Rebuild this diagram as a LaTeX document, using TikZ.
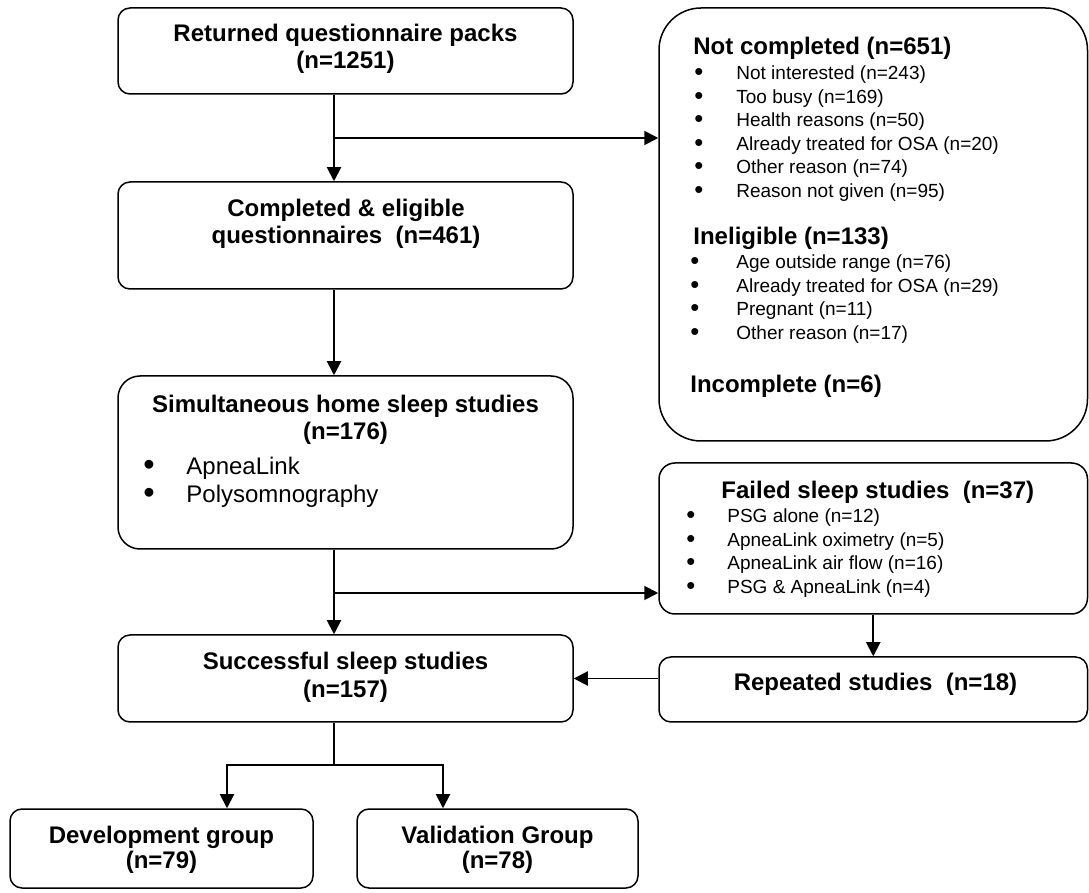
\documentclass[tikz,border=0pt]{standalone}
\usepackage{fontspec}
\setmainfont{Liberation Sans}
\usetikzlibrary{arrows.meta,positioning,fit}

\newcommand{\blt}{\raisebox{-0.3pt}{\scalebox{1.35}{\textbullet}}}

\begin{document}
\begin{tikzpicture}[
  x=0.5pt, y=-0.5pt,
  box/.style={draw,line width=0.75pt,rounded corners=6pt,inner sep=0pt},
  arrow/.style={-{Triangle[length=7pt,width=7pt]},line width=0.95pt},
  link/.style={line width=0.65pt},
  ttl/.style={font=\fontsize{12}{13.5}\selectfont\bfseries,inner sep=0pt,anchor=base},
  head/.style={font=\fontsize{12}{13.5}\selectfont\bfseries,inner sep=0pt,anchor=base west},
  lst/.style={font=\fontsize{9.5}{11.75}\selectfont,inner sep=0pt,anchor=base west},
  biglst/.style={font=\fontsize{12}{14}\selectfont,inner sep=0pt,anchor=base west}
]
  \useasboundingbox (0,0) rectangle (1089,893);

  % boxes
  \node[box,fit={(118,8) (573,94)}] (ret) {};
  \node[box,fit={(118,182) (573,289)}] (comp) {};
  \node[box,rounded corners=11pt,fit={(118,376) (573,549)}] (sim) {};
  \node[box,fit={(118,635) (573,722)}] (succ) {};
  \node[box,fit={(10,809) (313,888)}] (dev) {};
  \node[box,fit={(357,809) (638,888)}] (val) {};
  \node[box,rounded corners=21pt,fit={(659,8) (1087.5,441)}] (notc) {};
  \node[box,rounded corners=8pt,fit={(659,463) (1087.5,614)}] (fail) {};
  \node[box,fit={(659,657) (1087.5,722)}] (rep) {};

  % texts
  \node[ttl] (rett) at (345.5,42) {\begin{tabular}[t]{@{}c@{}}Returned questionnaire packs\\(n=1251)\end{tabular}};
  \node[ttl] (compt) at (346,217) {\begin{tabular}[t]{@{}c@{}}Completed \& eligible\\questionnaires\ \ (n=461)\end{tabular}};
  \node[ttl] (simt) at (345.5,413) {\begin{tabular}[t]{@{}c@{}}Simultaneous home sleep studies\\(n=176)\end{tabular}};
  \node[biglst] (siml) at (143,475) {\begin{tabular}[t]{@{}p{21.5pt}@{}l@{}}
    \blt & ApneaLink\\
    \blt & Polysomnography
  \end{tabular}};
  \node[ttl] (succt) at (345.5,670) {\begin{tabular}[t]{@{}c@{}}Successful sleep studies\\(n=157)\end{tabular}};
  \node[ttl] (devt) at (161.5,843) {\begin{tabular}[t]{@{}c@{}}Development group\\[-0.5pt](n=79)\end{tabular}};
  \node[ttl] (valt) at (497.5,843) {\begin{tabular}[t]{@{}c@{}}Validation Group\\[-0.5pt](n=78)\end{tabular}};

  \node[head] (notct) at (693,55) {Not completed (n=651)};
  \node[lst] (notcl) at (694,80) {\begin{tabular}[t]{@{}p{21pt}@{}l@{}}
    \blt & Not interested (n=243)\\
    \blt & Too busy (n=169)\\
    \blt & Health reasons (n=50)\\
    \blt & Already treated for OSA (n=20)\\
    \blt & Other reason (n=74)\\
    \blt & Reason not given (n=95)
  \end{tabular}};
  \node[head] (inelt) at (693,245) {Ineligible (n=133)};
  \node[lst] (inell) at (690,269) {\begin{tabular}[t]{@{}p{23pt}@{}l@{}}
    \blt & Age outside range (n=76)\\
    \blt & Already treated for OSA (n=29)\\
    \blt & Pregnant (n=11)\\
    \blt & Other reason (n=17)
  \end{tabular}};
  \node[head] (inct) at (690,393) {Incomplete (n=6)};

  \node[head] (failt) at (721,499) {Failed sleep studies\ \ (n=37)};
  \node[lst] (faill) at (686,523) {\begin{tabular}[t]{@{}p{20.5pt}@{}l@{}}
    \blt & PSG alone (n=12)\\
    \blt & ApneaLink oximetry (n=5)\\
    \blt & ApneaLink air flow (n=16)\\
    \blt & PSG \& ApneaLink (n=4)
  \end{tabular}};
  \node[ttl] (rept) at (875.5,690) {Repeated studies\ \ (n=18)};

  % connectors
  \coordinate (s1) at (334,138);
  \coordinate (s2) at (334,593);
  \coordinate (s3) at (334,765);
  \coordinate (s3l) at (227,765);
  \coordinate (s3r) at (443,765);

  \draw[arrow] (s1 |- ret.south) -- (s1 |- comp.north);
  \draw[arrow] (s1) -- (s1 -| notc.west);
  \draw[arrow] (s1 |- comp.south) -- (s1 |- sim.north);
  \draw[arrow] (s2 |- sim.south) -- (s2 |- succ.north);
  \draw[arrow] (s2) -- (s2 -| fail.west);
  \draw[arrow] (fail) -- (rep);
  \draw[arrow] (rep.west |- succ.east) -- (succ.east);
  \draw[link] (s3 |- succ.south) -- (s3);
  \draw[arrow] (s3) -- (s3l) -- (s3l |- dev.north);
  \draw[arrow] (s3) -- (s3r) -- (s3r |- val.north);
\end{tikzpicture}
\end{document}
